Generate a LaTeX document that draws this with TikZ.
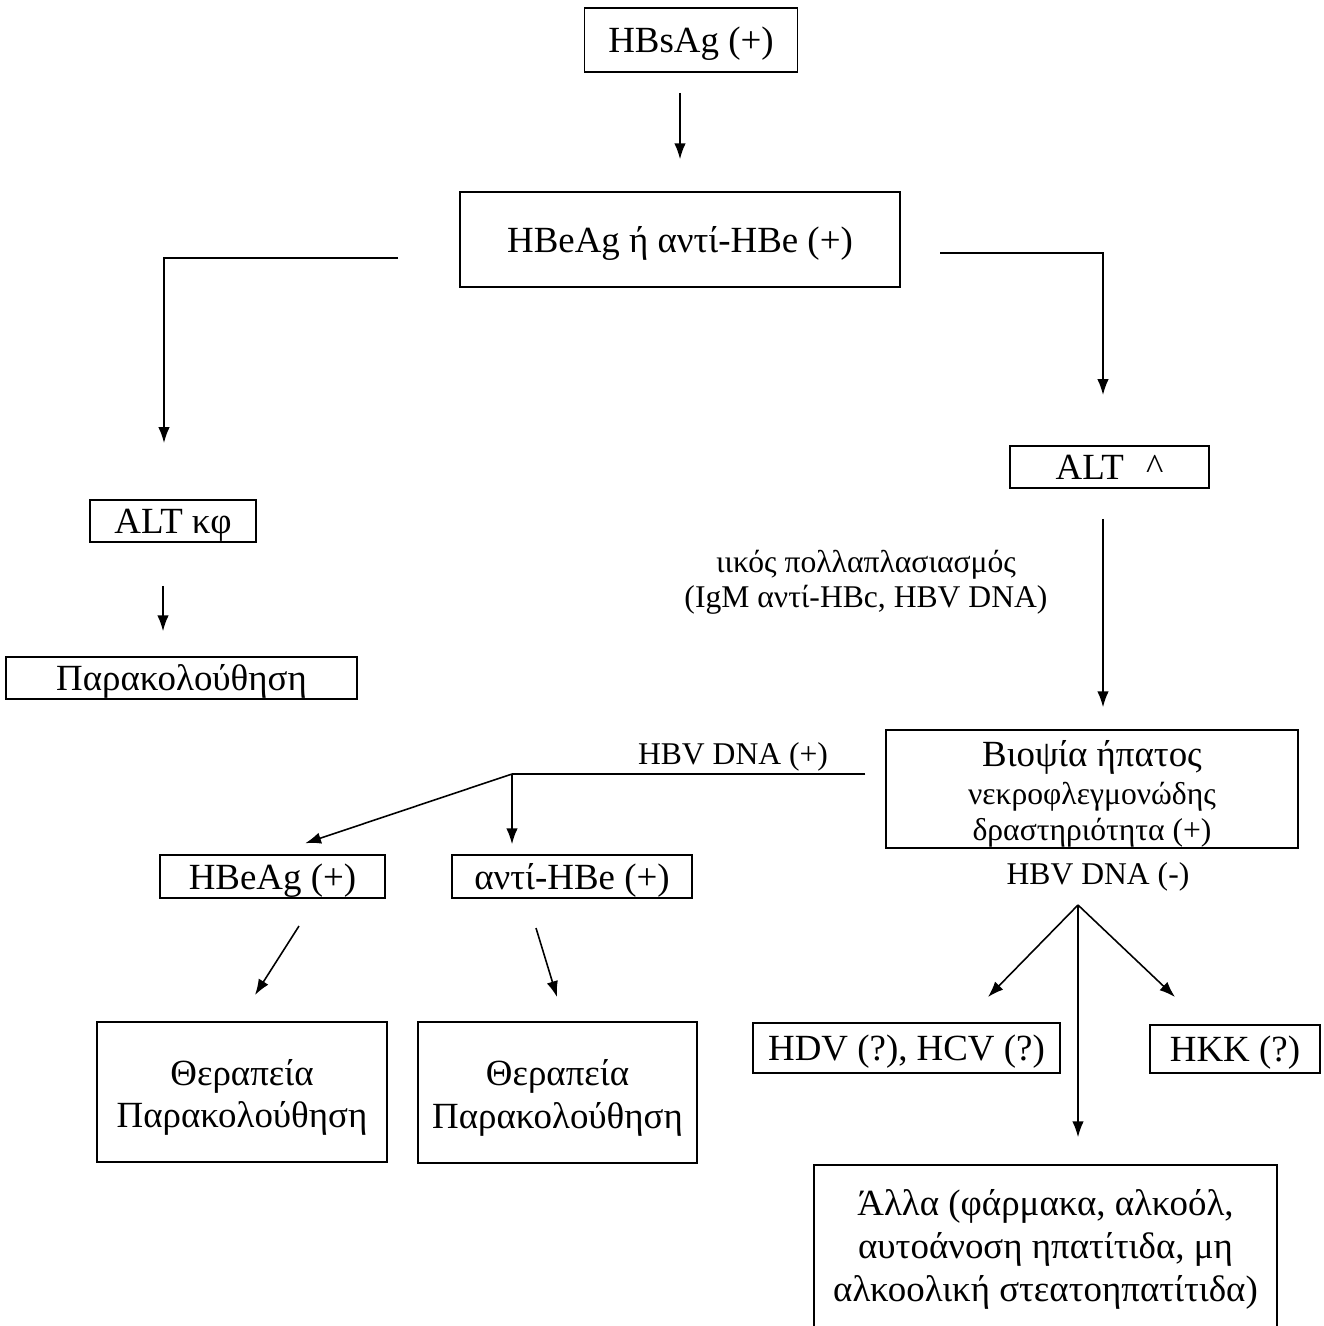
\documentclass[tikz,border=0pt]{standalone}
\usepackage{fontspec}
\setmainfont{Liberation Serif}
\usetikzlibrary{arrows.meta}

\begin{document}
\begin{tikzpicture}[x=0.02cm, y=-0.02cm,
  boite/.style={draw, line width=0.9pt, inner sep=0pt, align=center, font=\fontsize{21}{24.4}\selectfont},
  ligne/.style={text height=19.2pt, text depth=4.6pt},
  etiq/.style={inner sep=0pt, align=center, font=\fontsize{18}{20}\selectfont},
  fleche/.style={line width=0.9pt, -{Latex[length=9pt, width=6.5pt]}}]

\useasboundingbox (0,0) rectangle (1323,1326);

%% haut
\node[boite, ligne, minimum width=4.26cm, minimum height=1.28cm] (hbsag) at (691,40) {HBsAg (+)};
\node[boite, ligne, minimum width=8.8cm, minimum height=1.9cm] (hbeag) at (680,239.5) {HBeAg ή αντί-HBe (+)};
\draw[fleche, shorten <=0.4cm, shorten >=0.64cm] (hbeag.north |- hbsag.south) -- (hbeag.north);

%% branche gauche
\coordinate (gauche) at (398,258);
\coordinate (gauchebas) at (164,443);
\draw[fleche] (gauche) -| (gauchebas);
\node[boite, ligne, minimum width=3.32cm, minimum height=0.84cm] (altkf) at (173,521) {ALT κφ};
\node[boite, ligne, minimum width=7.02cm, minimum height=0.84cm] (parak) at (181.5,678) {Παρακολούθηση};
\draw[fleche, shorten <=0.86cm, shorten >=0.5cm] ([xshift=-0.2cm]altkf.south) -- ([xshift=-0.2cm]altkf.south |- parak.north);

%% branche droite
\coordinate (droite) at (940,253);
\coordinate (droitebas) at (1103,395);
\draw[fleche] (droite) -| (droitebas);
\node[boite, minimum width=3.98cm, minimum height=0.84cm] (altup) at (1109.5,467) {ALT\hspace{0.6em}\textasciicircum};
\node[etiq] (mult) at (866,582) {ιικός πολλαπλασιασμός\\(IgM αντί-HBc, HBV DNA)};
\node[boite, minimum width=8.24cm, minimum height=2.36cm] (biopsy) at (1092,789)
  {\rule{0pt}{0.95em}Βιοψία ήπατος\\[-2.5pt] \fontsize{18}{20}\selectfont νεκροφλεγμονώδης\\[-4pt] \fontsize{18}{20}\selectfont δραστηριότητα (+)};
\draw[fleche, shorten <=0.6cm, shorten >=0.44cm] (droitebas |- altup.south) -- (droitebas |- biopsy.north);

%% HBV DNA (+)
\node[etiq] (dnap) at (733,757) {HBV DNA (+)};
\coordinate (noeudp) at (512,774);
\draw[line width=0.9pt, shorten <=0.4cm] (biopsy.west |- noeudp) -- (noeudp);
\node[boite, ligne, minimum width=4.5cm, minimum height=0.86cm] (hbeagp) at (272.5,876.5) {HBeAg (+)};
\node[boite, ligne, minimum width=4.8cm, minimum height=0.86cm] (antihbe) at (572,876.5) {αντί-HBe (+)};
\draw[fleche, shorten >=0.69cm] (noeudp) -- (hbeagp.north);
\draw[fleche, shorten >=0.2cm] (noeudp) -- (noeudp |- antihbe.north);

\node[boite, minimum width=5.8cm, minimum height=2.8cm] (ther1) at (242,1092) {\rule{0pt}{1em}Θεραπεία\\Παρακολούθηση};
\node[boite, minimum width=5.58cm, minimum height=2.82cm] (ther2) at (557.5,1092.5) {\rule{0pt}{1em}Θεραπεία\\Παρακολούθηση};
\coordinate (t1a) at (299,926);
\coordinate (t1b) at (255,995);
\coordinate (t2a) at (536,928);
\coordinate (t2b) at (557,997);
\draw[fleche] (t1a) -- (t1b);
\draw[fleche] (t2a) -- (t2b);

%% HBV DNA (-)
\node[etiq] (dnam) at (1098,877) {HBV DNA (-)};
\coordinate (noeudm) at (1078,905);
\coordinate (vershdv) at (988,997);
\coordinate (vershkk) at (1175,997);
\node[boite, ligne, minimum width=6.14cm, minimum height=1.0cm] (hdv) at (906.5,1048) {HDV (?), HCV (?)};
\node[boite, ligne, minimum width=3.4cm, minimum height=0.96cm] (hkk) at (1235,1049) {HKK (?)};
\node[boite, minimum width=9.26cm, minimum height=3.38cm] (alla) at (1045.5,1249.5)
  {Άλλα (φάρμακα, αλκοόλ,\\αυτοάνοση ηπατίτιδα, μη\\αλκοολική στεατοηπατίτιδα)};
\draw[fleche] (noeudm) -- (vershdv);
\draw[fleche] (noeudm) -- (vershkk);
\draw[fleche, shorten >=0.54cm] (noeudm) -- (noeudm |- alla.north);

\end{tikzpicture}
\end{document}
